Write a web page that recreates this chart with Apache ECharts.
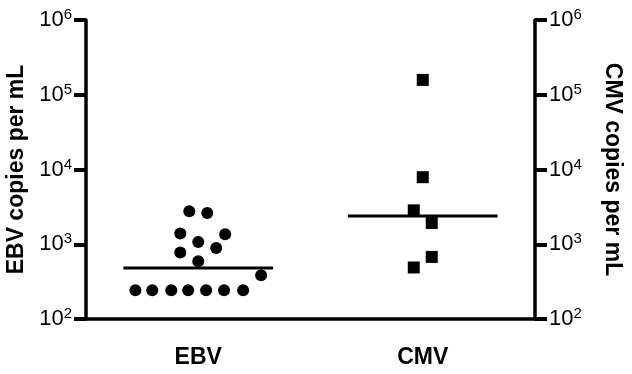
<!DOCTYPE html>
<html>
<head>
<meta charset="utf-8">
<script src="https://cdn.jsdelivr.net/npm/echarts@6/dist/echarts.min.js"></script>
<style>
  html, body { margin: 0; padding: 0; background: #fff; }
  #chart { width: 632px; height: 374px; }
</style>
</head>
<body>
<div id="chart"></div>
<script>
// groups on the x axis
const groups = ["EBV", "CMV"];

// EBV copies per mL (x = jittered position, group centre at 1)
const ebvX = [0.44, 0.59, 0.76, 0.91, 1.07, 1.23, 1.40, 1.56, 1.00, 0.84, 1.16, 1.00, 0.84, 1.24, 0.92, 1.08];
const ebvY = [243, 243, 243, 243, 243, 243, 243, 386, 593, 774, 893, 1074, 1389, 1360, 2754, 2613];

// CMV copies per mL (group centre at 3)
const cmvX = [3.00, 3.00, 2.92, 3.08, 3.08, 2.92];
const cmvY = [158000, 7890, 2840, 1924, 677, 489];

// median of each group
const medianCentre = [1, 3];
const medianValue = [480, 2390];
const medianHalfWidth = 0.667;

document.addEventListener("DOMContentLoaded", function () {
    let chart = echarts.init(document.getElementById("chart"));

    let font = "Liberation Sans, Arial, sans-serif";

    function powLabel(value) {
        let e = Math.round(Math.log10(value));
        return "{b|10}{s|" + e + "}";
    }
    let richPow = {
        b: { fontSize: 22, fontFamily: font, color: "#000" },
        s: { fontSize: 15, fontFamily: font, color: "#000", verticalAlign: "top", padding: [0, 0, 10, 0] }
    };

    function yAxisCfg(pos, name, rot, gap) {
        return {
            type: "log",
            logBase: 10,
            min: 100,
            max: 1000000,
            position: pos,
            name: name,
            nameLocation: "middle",
            nameRotate: rot,
            nameGap: gap,
            nameTextStyle: { fontSize: 23, fontWeight: "bold", fontFamily: font, color: "#000" },
            axisLine: { show: true, lineStyle: { color: "#000", width: 3.5 } },
            axisTick: { show: true, inside: false, length: 12, lineStyle: { color: "#000", width: 4 } },
            minorTick: { show: false },
            splitLine: { show: false },
            axisLabel: { formatter: powLabel, rich: richPow, margin: 14 }
        };
    }

    let series = [
        {
            name: "EBV",
            type: "scatter",
            xAxisIndex: 1,
            symbol: "circle",
            symbolSize: 12,
            itemStyle: { color: "#000", opacity: 1 },
            data: ebvX.map((x, i) => [x, ebvY[i]])
        },
        {
            name: "CMV",
            type: "scatter",
            xAxisIndex: 1,
            symbol: "rect",
            symbolSize: 12,
            itemStyle: { color: "#000", opacity: 1 },
            data: cmvX.map((x, i) => [x, cmvY[i]])
        }
    ];
    medianCentre.forEach((c, i) => {
        series.push({
            type: "line",
            xAxisIndex: 1,
            symbol: "none",
            silent: true,
            lineStyle: { color: "#000", width: 3 },
            data: [[c - medianHalfWidth, medianValue[i]], [c + medianHalfWidth, medianValue[i]]]
        });
    });

    let option = {
        animation: false,
        grid: { left: 86, right: 97, top: 20, bottom: 55, containLabel: false, outerBoundsMode: "none" },
        xAxis: [
            {
                type: "category",
                data: groups,
                boundaryGap: true,
                axisLine: { lineStyle: { color: "#000", width: 3.5 } },
                axisTick: { alignWithLabel: true, length: 11, lineStyle: { color: "#000", width: 4 } },
                axisLabel: { fontSize: 23, fontWeight: "bold", fontFamily: font, color: "#000", margin: 27 }
            },
            {
                type: "value",
                min: 0,
                max: 4,
                show: false
            }
        ],
        yAxis: [
            yAxisCfg("left", "EBV copies per mL", 90, 58),
            yAxisCfg("right", "CMV copies per mL", -90, 66)
        ],
        series: series
    };
    chart.setOption(option);
});
</script>
</body>
</html>
